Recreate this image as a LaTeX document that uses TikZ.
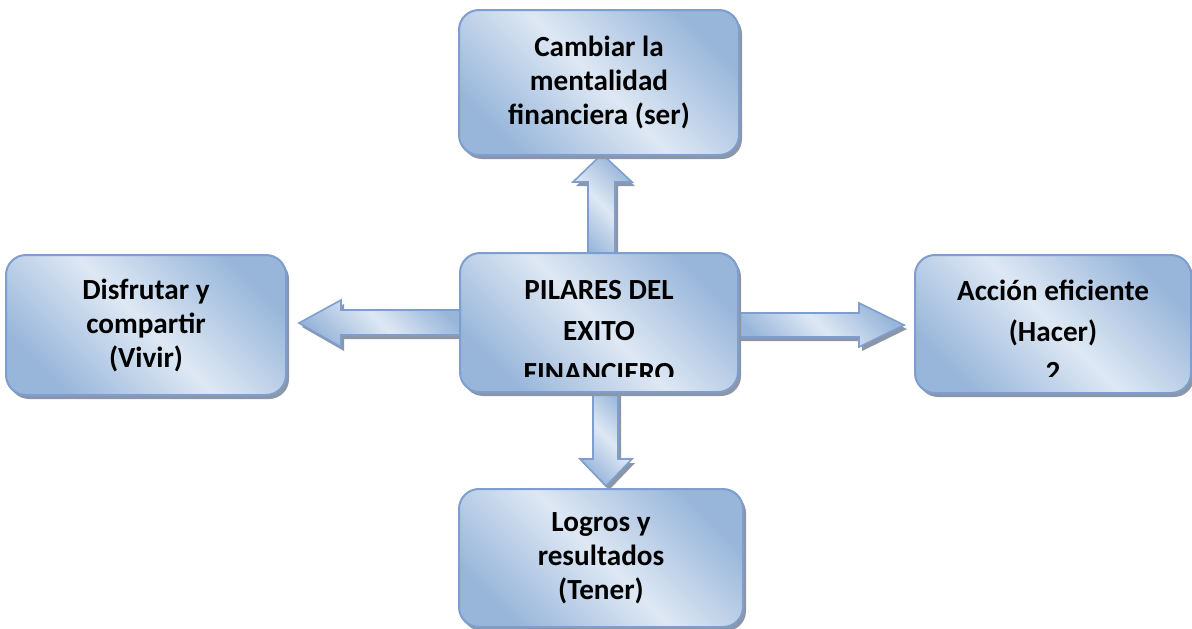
\documentclass[tikz,border=0pt]{standalone}
\usepackage{fontspec}
\setmainfont{Carlito}
\usepackage{xcolor}
\usetikzlibrary{positioning,calc,shadows,backgrounds}
\definecolor{pilclaro}{RGB}{222,232,244}
\definecolor{pilosc}{RGB}{152,182,218}
\definecolor{pilborde}{RGB}{125,158,206}
\definecolor{pilsombra}{RGB}{140,150,166}

\begin{document}
\begin{tikzpicture}[
        x=0.5pt, y=-0.5pt,
        every node/.style={font=\fontsize{14.6}{17}\selectfont\bfseries},
        caja/.style={rectangle, rounded corners=10pt, draw=pilborde, line width=1pt,
            top color=pilosc, bottom color=pilosc, middle color=pilclaro, shading angle=-45,
            minimum width=140pt, minimum height=70pt, align=center,
            drop shadow={shadow xshift=1.5pt, shadow yshift=-2pt, fill=pilsombra, opacity=1}},
        flecha/.style={draw=pilborde, line width=0.8pt, line join=miter,
            top color=pilosc, bottom color=pilosc, middle color=pilclaro, shading angle=-45,
            drop shadow={shadow xshift=1.5pt, shadow yshift=-2pt, fill=pilsombra, opacity=1}}
    ]
        \useasboundingbox (0,0) rectangle (1192,628);

        \node[caja, minimum width=139pt, minimum height=69.5pt] (pilar) at (599,322.5) {};
        \node[caja, minimum height=72.5pt, above=48pt of pilar] (ser) {Cambiar la\\mentalidad\\financiera (ser)};
        \node[caja, left=86pt of pilar, yshift=-1.25pt] (vivir) {Disfrutar y\\compartir\\(Vivir)};
        \node[caja, minimum width=138pt, minimum height=69pt, right=87.5pt of pilar, yshift=-0.75pt] (hacer) {};
        \node[caja, minimum width=142pt, minimum height=69pt, below=47.5pt of pilar, xshift=1pt] (tener) {Logros y\\resultados\\(Tener)};

        % texto recortado como en el original
        \begin{scope}
            \clip (pilar.north west) rectangle ($(pilar.south east)+(0,-17)$);
            \node[align=center, font=\fontsize{14.6}{20.75}\selectfont\bfseries] (pilar-txt) at ($(pilar.center)+(0,9)$) {PILARES DEL\\EXITO\\FINANCIERO};
        \end{scope}
        \begin{scope}
            \clip (hacer.north west) rectangle ($(hacer.south east)+(0,-18)$);
            \node[align=center, font=\fontsize{14.6}{20.25}\selectfont\bfseries] (hacer-txt) at ($(hacer.center)+(0,7)$) {Acción eficiente\\(Hacer)\\2};
        \end{scope}

        \begin{scope}[on background layer]
            \shade[flecha] ($(pilar.north)+(-11,5)$) -- ($(ser.south)+(-11,26)$) -- ($(ser.south)+(-26,26)$)
                -- ($(ser.south)+(3,-2)$) -- ($(ser.south)+(33,26)$) -- ($(ser.south)+(16,26)$)
                -- ($(pilar.north)+(16,5)$) -- cycle;
            \shade[flecha] ($(pilar.south)+(-6,-5)$) -- ($(tener.north)+(-8,-29)$) -- ($(tener.north)+(-21,-29)$)
                -- ($(tener.north)+(5,-2)$) -- ($(tener.north)+(31,-29)$) -- ($(tener.north)+(17,-29)$)
                -- ($(pilar.south)+(19,-5)$) -- cycle;
            \shade[flecha] ($(pilar.west)+(5,-12.5)$) -- ($(vivir.east)+(54,-15)$) -- ($(vivir.east)+(54,-25)$)
                -- ($(vivir.east)+(12,-2)$) -- ($(vivir.east)+(54,22)$) -- ($(vivir.east)+(54,10)$)
                -- ($(pilar.west)+(5,12.5)$) -- cycle;
            \shade[flecha] ($(pilar.east)+(-5,-9.5)$) -- ($(hacer.west)+(-55,-11)$) -- ($(hacer.west)+(-55,-21)$)
                -- ($(hacer.west)+(-10,1)$) -- ($(hacer.west)+(-55,23)$) -- ($(hacer.west)+(-55,13)$)
                -- ($(pilar.east)+(-5,14.5)$) -- cycle;
        \end{scope}
    \end{tikzpicture}
\end{document}
